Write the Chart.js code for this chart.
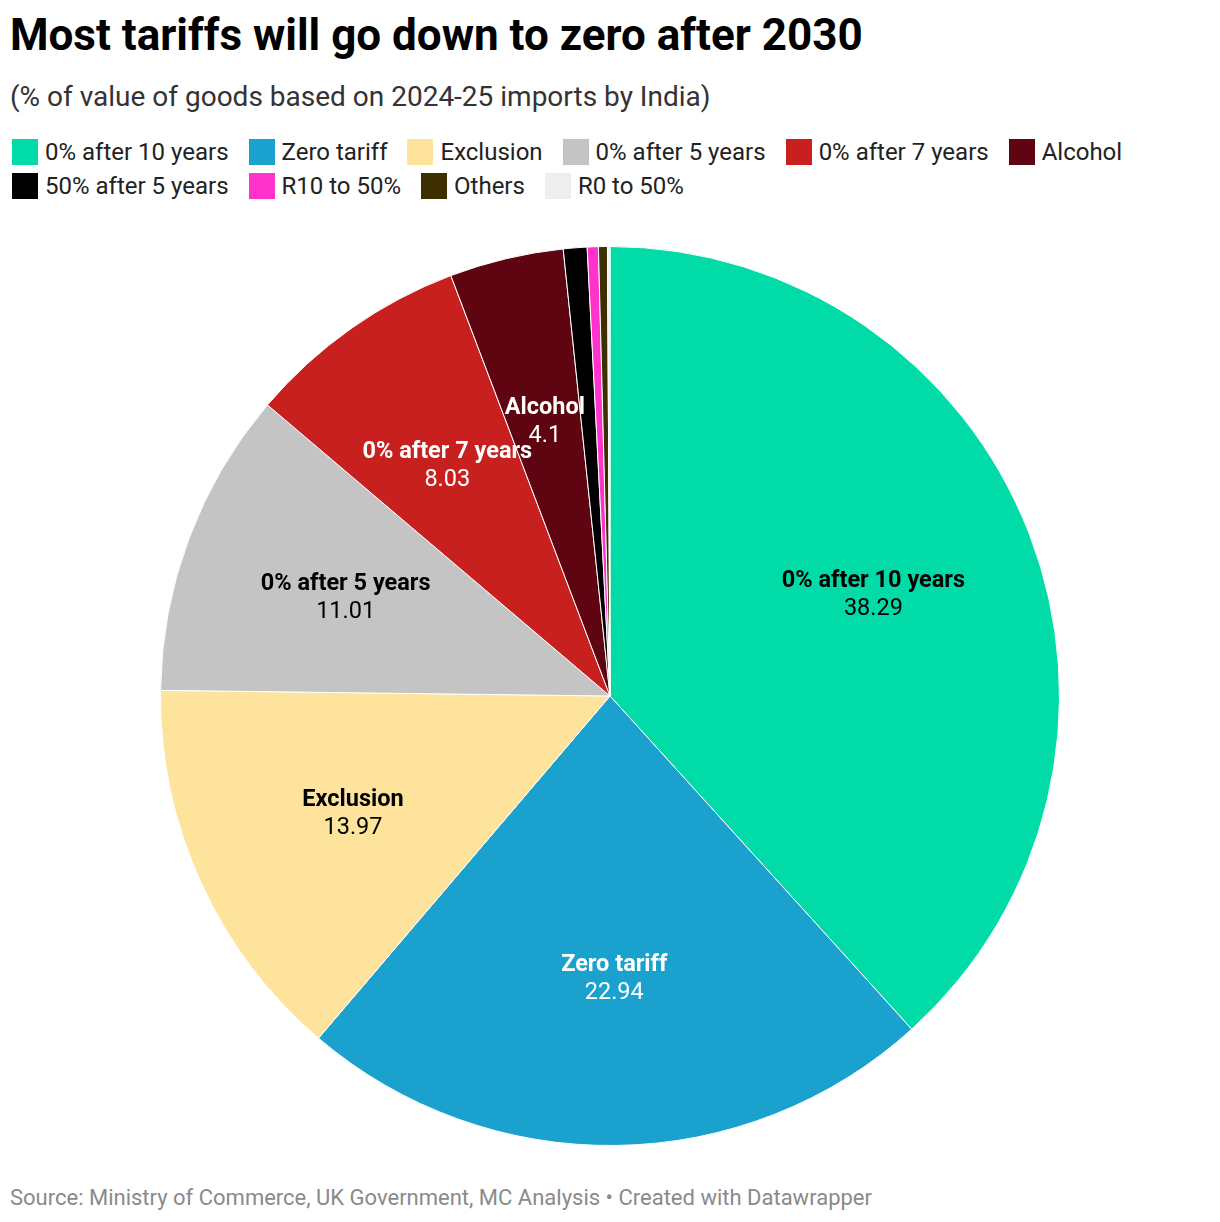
<!DOCTYPE html>
<html>
<head>
<meta charset="utf-8">
<script src="https://cdn.jsdelivr.net/npm/chart.js@4"></script>
<style>
  html, body { margin: 0; padding: 0; background: #fff; }
  body { width: 1220px; height: 1222px; position: relative; font-family: Roboto, "Noto Sans", sans-serif; overflow: hidden; }
  #title { position: absolute; left: 10px; top: 13px; font-size: 44px; line-height: 1; font-weight: 700; color: #000; white-space: nowrap; }
  #subtitle { position: absolute; left: 10px; top: 83px; font-size: 28px; line-height: 1; color: #333; white-space: nowrap; }
  #legend { position: absolute; left: 12px; top: 139px; width: 1205px; display: flex; flex-wrap: wrap; row-gap: 8px; }
  .li { display: flex; align-items: center; margin-right: 20px; height: 26px; font-size: 24px; color: #222; white-space: nowrap; }
  .sw { width: 26px; height: 26px; margin-right: 7px; flex: none; }
  #wrap { position: absolute; left: 0; top: 246px; width: 1220px; height: 900px; }
  #footer { position: absolute; left: 10px; top: 1187px; font-size: 22px; line-height: 1; color: #8a8a8a; white-space: nowrap; }
</style>
</head>
<body>
<div id="title">Most tariffs will go down to zero after 2030</div>
<div id="subtitle">(% of value of goods based on 2024-25 imports by India)</div>
<div id="legend"></div>
<div id="wrap"><canvas id="c"></canvas></div>
<div id="footer">Source: Ministry of Commerce, UK Government, MC Analysis • Created with Datawrapper</div>
<script>
const categories = ["0% after 10 years", "Zero tariff", "Exclusion", "0% after 5 years", "0% after 7 years", "Alcohol", "50% after 5 years", "R10 to 50%", "Others", "R0 to 50%"];
const values = [38.29, 22.94, 13.97, 11.01, 8.03, 4.1, 0.85, 0.4, 0.32, 0.09];
const colors = ["#00dba7", "#1ba1ce", "#fde39c", "#c4c4c4", "#c81f1f", "#5f0511", "#000000", "#ff33cc", "#3e2f00", "#eeeeee"];
const labelColors = ["#000", "#fff", "#000", "#000", "#fff", "#fff", null, null, null, null];
const showLabel = [true, true, true, true, true, true, false, false, false, false];

const leg = document.getElementById('legend');
categories.forEach((c, i) => {
  const d = document.createElement('div'); d.className = 'li';
  const s = document.createElement('div'); s.className = 'sw'; s.style.background = colors[i];
  d.appendChild(s); d.appendChild(document.createTextNode(c)); leg.appendChild(d);
});

const labelPlugin = {
  id: 'sliceLabels',
  afterDatasetsDraw(chart) {
    const ctx = chart.ctx;
    const meta = chart.getDatasetMeta(0);
    meta.data.forEach((arc, i) => {
      if (!showLabel[i]) return;
      const p = arc.getProps(['x', 'y', 'startAngle', 'endAngle', 'outerRadius'], true);
      const a = (p.startAngle + p.endAngle) / 2;
      const r = p.outerRadius * 0.628;
      const x = p.x + Math.cos(a) * r;
      const y = p.y + Math.sin(a) * r;
      ctx.save();
      ctx.textAlign = 'center';
      ctx.textBaseline = 'middle';
      ctx.fillStyle = labelColors[i];
      ctx.font = '700 23.5px Roboto';
      ctx.fillText(categories[i], x, y - 13);
      ctx.font = '400 23.5px Roboto';
      ctx.fillText(String(values[i]), x, y + 15);
      ctx.restore();
    });
  }
};

new Chart(document.getElementById('c'), {
  type: 'pie',
  data: {
    labels: categories,
    datasets: [{ data: values, backgroundColor: colors, borderColor: '#ffffff', borderWidth: 1 }]
  },
  options: {
    responsive: true,
    maintainAspectRatio: false,
    animation: false,
    layout: { padding: 0 },
    plugins: { legend: { display: false }, tooltip: { enabled: false } }
  },
  plugins: [labelPlugin]
});
</script>
</body>
</html>
